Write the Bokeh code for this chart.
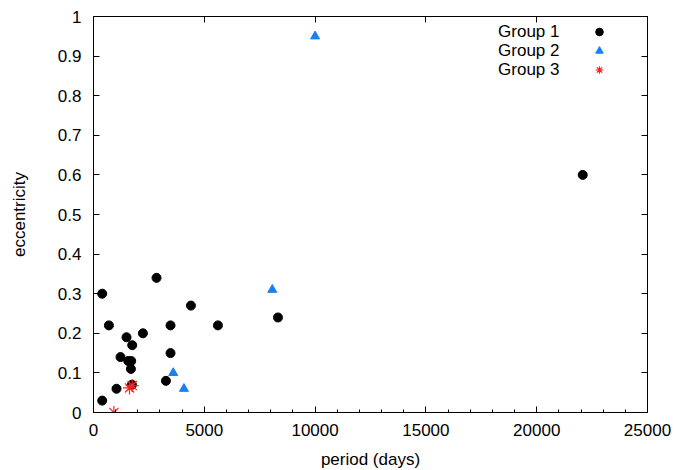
from bokeh.plotting import figure
from bokeh.models import (LinearAxis, Range1d, FixedTicker, Legend, LegendItem,
                          Label, ColumnDataSource, CustomLabelingPolicy)
from bokeh.embed import file_html
from bokeh.resources import INLINE

# Orbital period (days) and eccentricity for each group
g1_period = [393, 695, 393, 1038, 1219, 1490, 1747, 1567, 1702, 1688, 1734,
             2230, 2844, 3476, 3476, 3269, 4397, 5616, 8325, 22077]
g1_ecc = [0.30, 0.22, 0.03, 0.06, 0.14, 0.19, 0.17, 0.13, 0.13, 0.11, 0.07,
          0.20, 0.34, 0.22, 0.15, 0.08, 0.27, 0.22, 0.24, 0.60]

g2_period = [10000, 8068, 3598, 4081]
g2_ecc = [0.95, 0.31, 0.10, 0.06]

g3_period = [920, 1625, 1747]
g3_ecc = [0.00, 0.062, 0.068]

group_names = ["Group 1", "Group 2", "Group 3"]

x_ticks = [0, 5000, 10000, 15000, 20000, 25000]
x_tick_labels = ["0", "5000", "10000", "15000", "20000", "25000"]
y_ticks = [0, 0.1, 0.2, 0.3, 0.4, 0.5, 0.6, 0.7, 0.8, 0.9, 1.0]
y_tick_labels = ["0", "0.1", "0.2", "0.3", "0.4", "0.5", "0.6", "0.7", "0.8", "0.9", "1"]

FONT = "Liberation Sans"
FS = "17px"

p = figure(width=677, height=470, output_backend="svg", toolbar_location=None,
           x_range=Range1d(0, 25000), y_range=Range1d(0, 1),
           x_axis_label="period (days)", y_axis_label="eccentricity")
p.frame_width = 554
p.frame_height = 396
p.min_border_left = 93
p.min_border_right = 30
p.min_border_top = 16
p.min_border_bottom = 58
p.xgrid.visible = False
p.ygrid.visible = False
p.outline_line_color = "black"
p.outline_line_width = 1
p.background_fill_color = "white"
p.border_fill_color = "white"

def style_axis(ax, ticks, labels, minor):
    ax.ticker = FixedTicker(ticks=ticks, minor_ticks=minor)
    ax.major_label_overrides = {t: s for t, s in zip(ticks, labels)}
    ax.major_tick_in = 6
    ax.major_tick_out = 0
    ax.minor_tick_in = 3
    ax.minor_tick_out = 0
    ax.axis_line_color = "black"
    ax.major_tick_line_color = "black"
    ax.minor_tick_line_color = "black"
    ax.major_label_text_font = FONT
    ax.major_label_text_font_size = FS
    ax.major_label_text_color = "black"
    ax.axis_label_text_font = FONT
    ax.axis_label_text_font_size = FS
    ax.axis_label_text_font_style = "normal"
    ax.axis_label_text_color = "black"

x_minor = list(range(0, 25001, 1000))
style_axis(p.xaxis[0], x_ticks, x_tick_labels, x_minor)
style_axis(p.yaxis[0], y_ticks, y_tick_labels, [])
p.xaxis[0].major_label_standoff = 11
p.xaxis[0].axis_label_standoff = 11
p.yaxis[0].major_label_standoff = 12
p.yaxis[0].axis_label_standoff = 26

# Mirrored ticks on the top and right edges, without labels
no_labels = CustomLabelingPolicy(code="""
    for (const i of Array.from(indices)) indices.unset(i)
    return indices
""")
top = LinearAxis(major_label_policy=no_labels)
style_axis(top, x_ticks, x_tick_labels, [])
top.major_label_standoff = 0
right = LinearAxis(major_label_policy=no_labels)
style_axis(right, y_ticks, y_tick_labels, [])
right.major_label_standoff = 0
p.add_layout(top, "above")
p.add_layout(right, "right")

s1 = ColumnDataSource(dict(x=g1_period, y=g1_ecc))
s2 = ColumnDataSource(dict(x=g2_period, y=g2_ecc))
s3 = ColumnDataSource(dict(x=g3_period, y=g3_ecc))

r1 = p.scatter("x", "y", source=s1, marker="circle", size=9,
               fill_color="black", line_color="black")
r2 = p.scatter("x", "y", source=s2, marker="triangle", size=9,
               fill_color="#1a80f0", line_color="#1a80f0")
r3 = p.scatter("x", "y", source=s3, marker="asterisk", size=13,
               line_color="#ff2020", line_width=1.2)

# Legend symbols (labels drawn to their left, right-aligned)
legend = Legend(items=[LegendItem(label="", renderers=[r]) for r in (r1, r2, r3)],
                location=(496, 333), padding=0, margin=0, spacing=0,
                glyph_width=20, glyph_height=19, label_height=19,
                label_width=0, label_standoff=0,
                border_line_color=None, background_fill_alpha=0)
p.add_layout(legend)

for i, name in enumerate(group_names):
    p.add_layout(Label(x=466, y=380.6 - 19 * i, x_units="screen", y_units="screen",
                       text=name, text_align="right", text_baseline="middle",
                       text_font=FONT, text_font_size=FS, text_color="black"))

open("out.html", "w").write(file_html(p, INLINE))
